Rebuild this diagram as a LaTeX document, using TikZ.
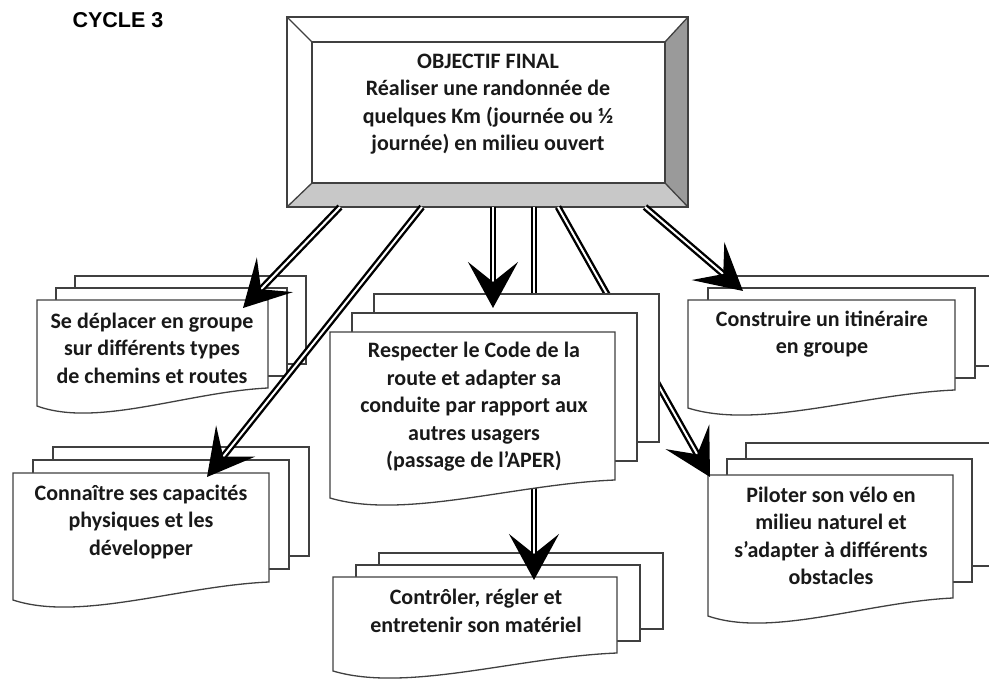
\documentclass[tikz,border=0pt]{standalone}
\usepackage{fontspec}
\setmainfont{Carlito}
\newfontfamily\headfont{Liberation Sans}
\usetikzlibrary{arrows.meta}

\definecolor{edge}{HTML}{404040}
\definecolor{bevelB}{HTML}{C8C8C8}
\definecolor{bevelR}{HTML}{9A9A9A}

\newcommand{\Sheets}[6]{
    \draw[sheet] (#1+2*#5,#2-2*#6) rectangle (#1+#3+2*#5,#2+#4-2*#6);
    \draw[sheet] (#1+#5,#2-#6) rectangle (#1+#3+#5,#2+#4-#6);
    \draw[sheet] (#1,#2) -- (#1+#3,#2) -- (#1+#3,#2+#4)
        .. controls (#1+0.65*#3,#2+#4+4) and (#1+0.26*#3,#2+#4+40) .. (#1,#2+#4+18) -- cycle;
}

\begin{document}
\begin{tikzpicture}[x=1pt, y=-1pt,
        sheet/.style={draw=edge, line width=1.3pt, fill=white},
        txt/.style={align=center, text=black!90, font=\fontsize{22}{27.5}\selectfont\bfseries},
        arr/.style={draw=black, double=white, double distance=2pt, line width=2.4pt,
            -{Stealth[length=46pt, width=50pt, inset=20pt]}}]
        \useasboundingbox (0,0) rectangle (989,684);
        \node (cycle) at (118,20) {\headfont\fontsize{21.5}{24}\selectfont\bfseries CYCLE 3};

        \fill[white] (287,17) rectangle (688,207);
        \fill[bevelR] (665,42) -- (688,17) -- (688,207) -- (665,183) -- cycle;
        \fill[bevelB] (312,183) -- (665,183) -- (688,207) -- (287,207) -- cycle;
        \draw[edge, line width=1.3pt] (287,17) rectangle (688,207);
        \draw[edge, line width=1.3pt] (312,42) rectangle (665,183);
        \draw[edge, line width=1.3pt] (287,17) -- (312,42);
        \draw[edge, line width=1.3pt] (688,17) -- (665,42);
        \draw[edge, line width=1.3pt] (287,207) -- (312,183);
        \draw[edge, line width=1.3pt] (688,207) -- (665,183);
        \node (obj) at (488,104) [txt] {OBJECTIF FINAL\\Réaliser une randonnée de\\quelques Km (journée ou ½\\journée) en milieu ouvert};

        \coordinate (obj1) at (340,207);
        \coordinate (obj2) at (422,207);
        \coordinate (obj3) at (493,207);
        \coordinate (obj4) at (534,207);
        \coordinate (obj5) at (558,207);
        \coordinate (obj6) at (645,207);

        \Sheets{37}{300}{231}{88}{19}{12}
        \node (deplacer) at (152,348) [txt] {Se déplacer en groupe\\sur différents types\\de chemins et routes};
        \Sheets{13}{473}{256}{109}{20}{13}
        \node (capacites) at (141,522) [txt] {Connaître ses capacités\\physiques et les\\développer};
        \Sheets{688}{300}{267}{90}{20}{12}
        \node (itineraire) at (822,334) [txt] {Construire un itinéraire\\en groupe};
        \Sheets{708}{475}{245}{123}{19}{16}
        \node (piloter) at (831,536) [txt] {Piloter son vélo en\\milieu naturel et\\s’adapter à différents\\obstacles};
        \Sheets{333}{577}{284}{76}{23}{12}
        \node (materiel) at (476,611) [txt] {Contrôler, régler et\\entretenir son matériel};

        \coordinate (deplacer-in) at (243,308);
        \coordinate (capacites-in) at (207,477);
        \coordinate (code-in) at (493,308);
        \coordinate (materiel-in) at (534,580);
        \coordinate (piloter-in) at (710,477);
        \coordinate (itineraire-in) at (743,291);

        \draw[arr] (obj4) -- (materiel-in);
        \draw[arr] (obj5) -- (piloter-in);

        \Sheets{330}{332}{285}{148}{22}{19}
        \node (code) at (474,407) [txt] {Respecter le Code de la\\route et adapter sa\\conduite par rapport aux\\autres usagers\\(passage de l’APER)};

        \draw[arr] (obj1) -- (deplacer-in);
        \draw[arr] (obj2) -- (capacites-in);
        \draw[arr] (obj3) -- (code-in);
        \draw[arr] (obj6) -- (itineraire-in);
\end{tikzpicture}
\end{document}
